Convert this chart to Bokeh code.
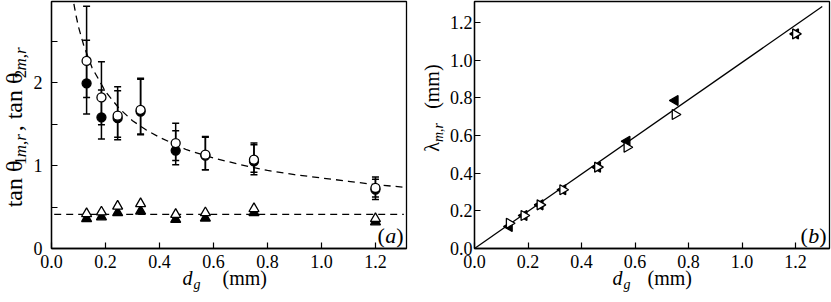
import math
from bokeh.plotting import figure
from bokeh.models import (Range1d, FixedTicker, PrintfTickFormatter,
                          Whisker, TeeHead, ColumnDataSource)
from bokeh.core.properties import value
from bokeh.layouts import row, column
from bokeh.embed import file_html
from bokeh.resources import INLINE

# ---------------- data ----------------
dg = [0.13, 0.185, 0.245, 0.33, 0.46, 0.57, 0.75, 1.2]

tan2 = [2.26, 1.82, 1.60, 1.67, 1.27, 1.13, 1.07, 0.73]
tan2_lo = [1.82, 1.49, 1.34, 1.38, 1.06, 0.95, 0.92, 0.62]
tan2_hi = [2.92, 2.25, 1.95, 2.05, 1.51, 1.35, 1.27, 0.86]

tan1 = [1.99, 1.58, 1.57, 1.65, 1.18, 1.12, 1.05, 0.71]
tan1_lo = [1.62, 1.32, 1.31, 1.37, 1.01, 0.95, 0.89, 0.59]
tan1_hi = [2.51, 1.91, 1.90, 2.04, 1.42, 1.34, 1.25, 0.835]

tri_open = [0.42, 0.44, 0.51, 0.54, 0.41, 0.43, 0.48, 0.36]
tri_fill = [0.36, 0.38, 0.43, 0.45, 0.35, 0.365, 0.43, 0.32]

fit_x = [0.075, 0.09, 0.10, 0.12, 0.15, 0.20, 0.25, 0.30, 0.35, 0.40,
         0.50, 0.60, 0.70, 0.80, 0.90, 1.00, 1.10, 1.20, 1.30]
fit_y = [3.09, 2.82, 2.67, 2.44, 2.18, 1.89, 1.69, 1.54, 1.43, 1.34,
         1.19, 1.09, 1.01, 0.94, 0.89, 0.85, 0.81, 0.77, 0.74]

flat_x = [0.01, 1.305]
flat_y = [0.41, 0.41]

lam_open = [0.134, 0.175, 0.232, 0.312, 0.432, 0.538, 0.712, 1.14]
lam_fill = [0.117, 0.175, 0.232, 0.312, 0.432, 0.570, 0.786, 1.14]

line_x = [0.0, 1.30]
line_y = [0.0, 1.285]

x_ticks = [0.0, 0.2, 0.4, 0.6, 0.8, 1.0, 1.2]
ya_ticks = [0, 1, 2]
ya_minor = [0.5, 1.5, 2.5]
yb_ticks = [0.0, 0.2, 0.4, 0.6, 0.8, 1.0, 1.2]

FONT = "Liberation Serif"
EM = {'t': 0.278, 'a': 0.444, 'n': 0.5, ' ': 0.25, 'θ': 0.5, '1': 0.5,
      '2': 0.5, 'm': 0.722, ',': 0.25, 'r': 0.389, 'λ': 0.55, '(': 0.333,
      ')': 0.333, 'd': 0.5, 'g': 0.5}
MID = 0.34       # middle of the em box above the baseline, in em

TOP_H = 276      # height of the row holding the two panels
OVERLAP = 12     # the x-label strip is pulled up over the tick-label band
STRIP_H = 300 - TOP_H + OVERLAP
FRAME_BOTTOM = 248


def tw(s, size):
    return sum(EM.get(c, 0.5) for c in s) * size


def put(p, x, y, text, size, italic=False, angle=0.0, align="left"):
    p.text(x=[x], y=[y], text=[text], text_font=value(FONT), text_font_size=value(f"{size}px"),
           text_font_style=value("italic" if italic else "normal"), angle=angle,
           text_align=value(align), text_baseline=value("middle"), text_color="black")


def strip(width, height, **kw):
    s = figure(width=width, height=height, x_range=Range1d(0, width), y_range=Range1d(0, height),
               min_border=0, x_axis_location=None, y_axis_location=None,
               output_backend="svg", toolbar_location=None, **kw)
    s.grid.visible = False
    s.outline_line_color = None
    s.background_fill_alpha = 0
    s.border_fill_alpha = 0
    return s


def make_fig(width, xr, yr, left):
    p = figure(width=width, height=TOP_H, x_range=Range1d(*xr), y_range=Range1d(*yr),
               min_border_left=left, min_border_right=2, min_border_top=1,
               min_border_bottom=TOP_H - FRAME_BOTTOM, output_backend="svg",
               toolbar_location=None)
    p.grid.visible = False
    p.outline_line_color = "black"
    p.outline_line_width = 1.3
    for ax in (p.xaxis[0], p.yaxis[0]):
        ax.axis_line_color = "black"
        ax.axis_line_width = 1.3
        ax.major_tick_in = 6
        ax.major_tick_out = 0
        ax.minor_tick_in = 6
        ax.minor_tick_out = 0
        ax.major_tick_line_color = "black"
        ax.major_tick_line_width = 1.2
        ax.minor_tick_line_width = 1.2
        ax.major_label_text_font = FONT
        ax.major_label_text_font_size = "18px"
        ax.major_label_text_color = "black"
    return p


def tag(p, xr, yr, fw, letter):
    # "(a)" / "(b)" in the lower right corner of the frame
    sx = (xr[1] - xr[0]) / fw
    sy = (yr[1] - yr[0]) / (FRAME_BOTTOM - 1)
    r = xr[1] - 3 * sx
    yc = yr[0] + (6 + MID * 22) * sy
    put(p, r, yc, ")", 22, align="right")
    put(p, r - 7.3 * sx, yc, letter, 22, italic=True, align="right")
    put(p, r - 18.8 * sx, yc, "(", 22, align="right")


# ---------------- panel (a) ----------------
FWa = 357
pa = make_fig(19 + FWa + 2, (0, 1.315), (0, 2.976), 19)
pa.xaxis.ticker = FixedTicker(ticks=x_ticks)
pa.xaxis.formatter = PrintfTickFormatter(format="%.1f")
pa.xaxis.minor_tick_line_color = None
pa.xaxis.major_label_standoff = 6
pa.yaxis.ticker = FixedTicker(ticks=ya_ticks, minor_ticks=ya_minor)
pa.yaxis.formatter = PrintfTickFormatter(format="%d")
pa.yaxis.minor_tick_line_color = "black"
pa.yaxis.major_label_standoff = 9

pa.line(fit_x, fit_y, line_color="black", line_width=1.3, line_dash="7 5")
pa.line(flat_x, flat_y, line_color="black", line_width=1.3, line_dash="7 5")

src2 = ColumnDataSource(dict(x=dg, lo=tan2_lo, hi=tan2_hi))
src1 = ColumnDataSource(dict(x=dg, lo=tan1_lo, hi=tan1_hi))
for s in (src1, src2):
    pa.add_layout(Whisker(source=s, base="x", lower="lo", upper="hi", dimension="height",
                          line_color="black", line_width=1.5, level="underlay",
                          lower_head=TeeHead(size=7, line_width=1.5, line_color="black"),
                          upper_head=TeeHead(size=7, line_width=1.5, line_color="black")))

pa.scatter(dg, tan1, marker="circle", size=9, fill_color="black", line_color="black", line_width=1.3)
pa.scatter(dg, tan2, marker="circle", size=9, fill_color="white", line_color="black", line_width=1.3)
pa.scatter(dg, tri_fill, marker="triangle", size=10, fill_color="black", line_color="black", line_width=1.3)
pa.scatter(dg, tri_open, marker="triangle", size=10, fill_color="white", line_color="black", line_width=1.3)
tag(pa, (0, 1.315), (0, 2.976), FWa, "a")

# ---------------- panel (b) ----------------
FWb = 356
pb = make_fig(27 + FWb + 2, (0, 1.327), (0, 1.312), 27)
pb.xaxis.ticker = FixedTicker(ticks=x_ticks)
pb.xaxis.formatter = PrintfTickFormatter(format="%.1f")
pb.xaxis.minor_tick_line_color = None
pb.xaxis.major_label_standoff = 6
pb.yaxis.ticker = FixedTicker(ticks=yb_ticks)
pb.yaxis.formatter = PrintfTickFormatter(format="%.1f")
pb.yaxis.minor_tick_line_color = None
pb.yaxis.major_label_standoff = 2

pb.line(line_x, line_y, line_color="black", line_width=1.3)
pb.scatter(dg, lam_fill, marker="triangle", angle=math.pi / 2, size=10,
           fill_color="black", line_color="black", line_width=1.3)
pb.scatter(dg, lam_open, marker="triangle", angle=-math.pi / 2, size=10,
           fill_color="white", line_color="black", line_width=1.3)
tag(pb, (0, 1.327), (0, 1.312), FWb, "b")

# ---------------- y-label strips (rotated text, read bottom to top) ----------------
rot = math.pi / 2
y0 = TOP_H - FRAME_BOTTOM
ya = strip(30, TOP_H)
y = y0 + 18
main_c, sub_c = 22 - MID * 24, 26 - MID * 17
pieces = [("tan θ", 24, False, main_c, 0), ("1", 17, False, sub_c, 0), ("m,r", 17, True, sub_c, 0),
          (", tan θ", 24, False, main_c, 0.25 * 24), ("2", 17, False, sub_c, 0), ("m,r", 17, True, sub_c, 0)]
for text, size, it, cx, gap in pieces:
    y += gap
    put(ya, cx, y, text, size, italic=it, angle=rot)
    y += tw(text, size)

yb = strip(38, TOP_H)
y = y0 + 80
put(yb, 30 - MID * 20, y, "λ", 20, angle=rot)
y += tw("λ", 20)
put(yb, 35 - MID * 14, y, "m,r", 14, italic=True, angle=rot)
y += tw("m,r", 14) + 18
put(yb, 30 - MID * 20, y, "(mm)", 20, angle=rot)

# ---------------- x-label strip ----------------
xs = strip(831, STRIP_H, styles={"margin-top": f"-{OVERLAP}px"})
strip_bottom = 300
base = 284          # baseline of "d" and "(mm)", page pixels from top
for xd, xg, xm in ((182, 193, 222), (612, 623, 647)):
    put(xs, xd, strip_bottom - (base - MID * 20), "d", 20, italic=True)
    put(xs, xg, strip_bottom - (base + 5 - MID * 14), "g", 14, italic=True)
    put(xs, xm, strip_bottom - (base - MID * 20), "(mm)", 20)

layout = column(row(ya, pa, yb, pb), xs)
open("out.html", "w").write(file_html(layout, INLINE))
